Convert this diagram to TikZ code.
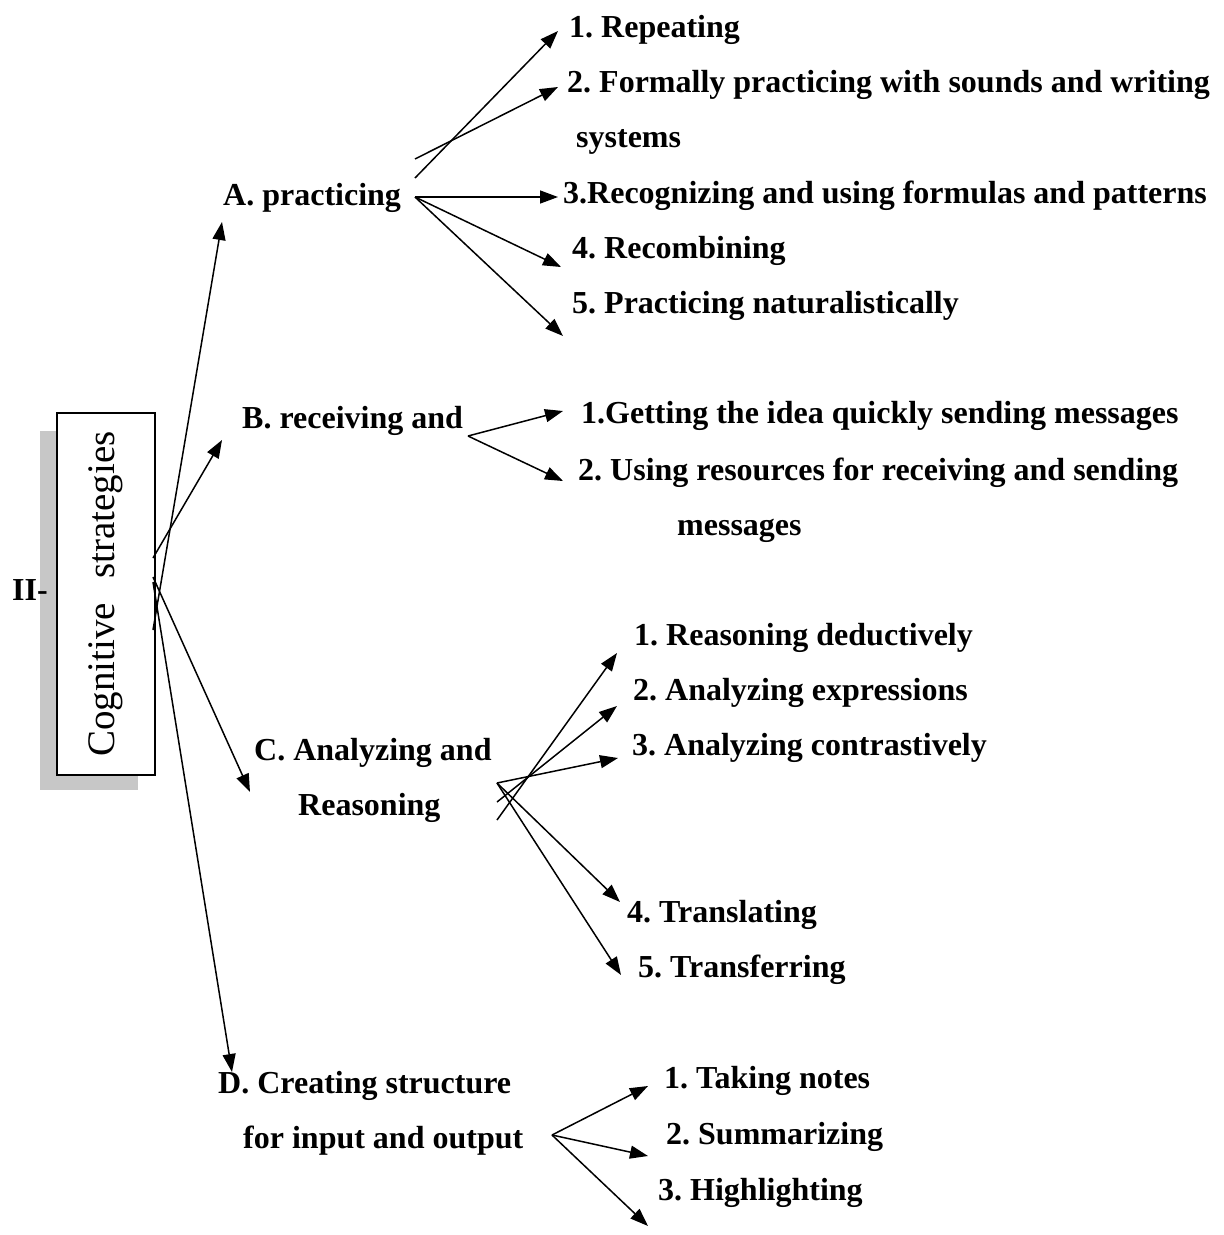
\documentclass[tikz,border=0pt]{standalone}
\usepackage{fontspec}
\setmainfont{Liberation Serif}
\usetikzlibrary{arrows.meta}
\newcommand\lblfont{\fontsize{32}{38}\selectfont\bfseries}
\newcommand\boxfont{\fontsize{39}{46}\selectfont}
\frenchspacing
\begin{document}
\begin{tikzpicture}[x=1pt,y=-1pt,
  lbl/.style={font=\lblfont, anchor=base west, inner sep=0pt},
  arr/.style={line width=1.5pt, -{Triangle[length=18pt,width=13pt]}},
  shadowbox/.style={fill=black!22},
  mainbox/.style={draw, line width=1.5pt, fill=white}]
\useasboundingbox (0,0) rectangle (1224,1235);

% title box with its shadow
\fill[shadowbox] (40,431) rectangle (138,790);
\draw[mainbox] (57,413) rectangle (155,775);
\node[rotate=90, font=\boxfont, inner sep=0pt] (title) at (106,594) {Cognitive\hspace{24pt}strategies};
\node[lbl] (num) at (12,600) {II-};

% main categories
\node[lbl] (A) at (223,205) {A. practicing};
\node[lbl] (B) at (242,428) {B. receiving and};
\node[lbl] (C1) at (254,760) {C. Analyzing and};
\node[lbl] (C2) at (298,815) {Reasoning};
\node[lbl] (D1) at (218,1093) {D. Creating structure};
\node[lbl] (D2) at (243,1148) {for input and output};

% A items
\node[lbl] (a1) at (569,37) {1. Repeating};
\node[lbl] (a2) at (567,92) {2. Formally practicing with sounds and writing};
\node[lbl] (a2b) at (576,147) {systems};
\node[lbl] (a3) at (563,203) {3.Recognizing and using formulas and patterns};
\node[lbl] (a4) at (572,258) {4. Recombining};
\node[lbl] (a5) at (572,313) {5. Practicing naturalistically};

% B items
\node[lbl] (b1) at (581,423) {1.Getting the idea quickly sending messages};
\node[lbl] (b2) at (578,480) {2. Using resources for receiving and sending};
\node[lbl] (b2b) at (677,535) {messages};

% C items
\node[lbl] (c1) at (634,645) {1. Reasoning deductively};
\node[lbl] (c2) at (633,700) {2. Analyzing expressions};
\node[lbl] (c3) at (632,755) {3. Analyzing contrastively};
\node[lbl] (c4) at (627,922) {4. Translating};
\node[lbl] (c5) at (638,977) {5. Transferring};

% D items
\node[lbl] (d1) at (664,1088) {1. Taking notes};
\node[lbl] (d2) at (666,1144) {2. Summarizing};
\node[lbl] (d3) at (658,1200) {3. Highlighting};

% connector ends
\coordinate (sA) at (153,630);  \coordinate (tA) at (222,222);
\coordinate (sB) at (153,558);  \coordinate (tB) at (222,440);
\coordinate (sC) at (153,577);  \coordinate (tC) at (250,792);
\coordinate (sD) at (153,582);  \coordinate (tD) at (232,1072);

\coordinate (a1s) at (415,178); \coordinate (a1t) at (558,31);
\coordinate (a2s) at (415,159); \coordinate (a2t) at (558,87);
\coordinate (ao) at (415,197);
\coordinate (a3t) at (558,197); \coordinate (a4t) at (561,267); \coordinate (a5t) at (563,336);

\coordinate (bo) at (468,436);
\coordinate (b1t) at (563,411); \coordinate (b2t) at (563,481);

\coordinate (c1s) at (497,820); \coordinate (c1t) at (617,653);
\coordinate (c2s) at (497,802); \coordinate (c2t) at (617,706);
\coordinate (co) at (497,783);
\coordinate (c3t) at (618,758); \coordinate (c4t) at (620,902); \coordinate (c5t) at (621,975);

\coordinate (do) at (552,1135);
\coordinate (d1t) at (648,1086); \coordinate (d2t) at (648,1156); \coordinate (d3t) at (648,1226);

% connectors
\draw[arr] (sA) -- (tA);
\draw[arr] (sB) -- (tB);
\draw[arr] (sC) -- (tC);
\draw[arr] (sD) -- (tD);

\draw[arr] (a1s) -- (a1t);
\draw[arr] (a2s) -- (a2t);
\draw[arr] (ao) -- (a3t);
\draw[arr] (ao) -- (a4t);
\draw[arr] (ao) -- (a5t);

\draw[arr] (bo) -- (b1t);
\draw[arr] (bo) -- (b2t);

\draw[arr] (c1s) -- (c1t);
\draw[arr] (c2s) -- (c2t);
\draw[arr] (co) -- (c3t);
\draw[arr] (co) -- (c4t);
\draw[arr] (co) -- (c5t);

\draw[arr] (do) -- (d1t);
\draw[arr] (do) -- (d2t);
\draw[arr] (do) -- (d3t);
\end{tikzpicture}
\end{document}
